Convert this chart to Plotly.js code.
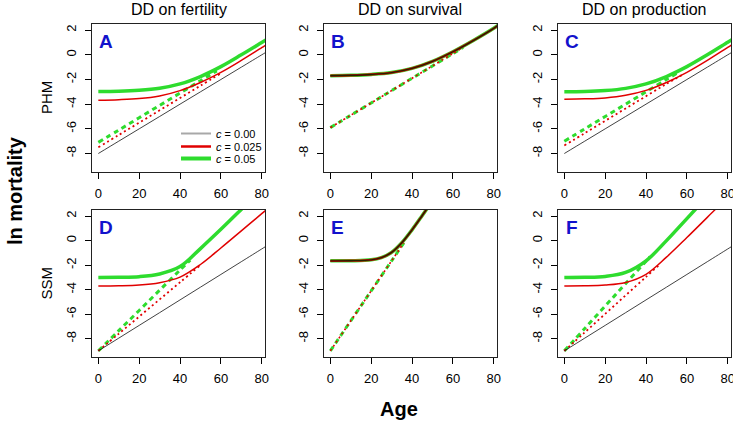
<!DOCTYPE html>
<html>
<head>
<meta charset="utf-8">
<script src="https://cdn.plot.ly/plotly-3.0.1.min.js"></script>
<style>
  body { margin: 0; background: #fff; }
  #chart { width: 733px; height: 421px; }
</style>
</head>
<body>
<div id="chart"></div>
<script>
// values (ln mortality by age)
const colTitles = ['DD on fertility', 'DD on survival', 'DD on production'];
const rowTitles = ['PHM', 'SSM'];
const letters = ['A', 'B', 'C', 'D', 'E', 'F'];
const legendLabels = ['<i>c</i> = 0.00', '<i>c</i> = 0.025', '<i>c</i> = 0.05'];
const xTicks = [0, 20, 40, 60, 80];
const yTicks = [-8, -6, -4, -2, 0, 2];

const age = [0, 10, 20, 30, 40, 50, 60, 70, 80, 82];

// A: PHM, fertility
const baseA = [-8, -7, -6, -5, -4, -3, -2, -1, 0, 0.2];
const redA = [-3.68, -3.64, -3.55, -3.33, -2.9, -2.24, -1.42, -0.45, 0.58, 0.78];
const greenA = [-2.98, -2.96, -2.88, -2.71, -2.36, -1.76, -0.96, 0.0, 1.0, 1.2];
const redDashAgeA = [0, 10, 20, 30, 40, 50, 60];
const redDashA = [-7.5, -6.5, -5.5, -4.5, -3.5, -2.5, -1.5];
const greenDashAgeA = [0, 10, 20, 30, 40, 50, 58];
const greenDashA = [-7.1, -6.1, -5.1, -4.1, -3.1, -2.1, -1.3];

// B: PHM, survival (all solid curves coincide)
const solidB = [-1.69, -1.66, -1.59, -1.44, -1.1, -0.53, 0.25, 1.16, 2.15, 2.38];
const dashAgeB = [0, 10, 20, 30, 40, 50, 60, 65];
const dashB = [-5.9, -4.9, -3.9, -2.9, -1.9, -0.9, 0.1, 0.6];

// C: PHM, production
const baseC = [-8, -7, -6, -5, -4, -3, -2, -1, 0, 0.2];
const redC = [-3.6, -3.57, -3.49, -3.28, -2.88, -2.24, -1.42, -0.45, 0.6, 0.8];
const greenC = [-3.0, -2.98, -2.9, -2.72, -2.36, -1.76, -0.96, 0.0, 1.02, 1.22];
const redDashAgeC = [0, 10, 20, 30, 40, 50, 58];
const redDashC = [-7.35, -6.35, -5.35, -4.35, -3.35, -2.35, -1.6];
const greenDashAgeC = [0, 10, 20, 30, 40, 50, 55];
const greenDashC = [-7.0, -6.0, -5.0, -4.0, -3.0, -2.0, -1.5];

// D: SSM, fertility
const baseD = [-9, -7.96, -6.92, -5.88, -4.84, -3.8, -2.76, -1.72, -0.68, -0.47];
const redD = [-3.7, -3.68, -3.62, -3.43, -2.98, -1.95, -0.6, 0.8, 2.2, 2.48];
const greenD = [-3.0, -2.99, -2.94, -2.72, -2.12, -0.65, 0.92, 2.55, 4.2, 4.5];
const redDashAgeD = [0, 10, 20, 30, 40, 50];
const redDashD = [-9, -7.6, -6.2, -4.8, -3.4, -2.0];
const greenDashAgeD = [0, 10, 20, 30, 40, 45];
const greenDashD = [-9, -7.35, -5.7, -4.05, -2.4, -1.6];

// E: SSM, survival
const ageE = [0, 10, 20, 25, 30, 35, 40, 45, 50];
const solidE = [-1.65, -1.64, -1.57, -1.39, -0.96, -0.17, 0.88, 2.05, 3.25];
const dashAgeE = [0, 10, 20, 30, 36];
const dashE = [-9, -6.55, -4.1, -1.65, -0.18];

// F: SSM, production
const baseF = [-9, -7.96, -6.92, -5.88, -4.84, -3.8, -2.76, -1.72, -0.68, -0.47];
const redF = [-3.7, -3.69, -3.63, -3.42, -2.75, -1.35, 0.25, 1.9, 3.55, 3.9];
const greenF = [-3.0, -2.99, -2.92, -2.6, -1.65, 0.0, 1.8, 3.6, 5.4, 5.8];
const redDashAgeF = [0, 10, 20, 30, 40, 46];
const redDashF = [-9, -7.49, -5.98, -4.47, -2.96, -2.05];
const greenDashAgeF = [0, 10, 20, 30, 40, 42];
const greenDashF = [-9, -7.17, -5.34, -3.51, -1.68, -1.31];

const GREEN = '#2edc2e';
const RED = '#e00000';
const BLACK = '#111111';
const W = 733, H = 421;
const FONT = 'Liberation Sans, Arial, sans-serif';

// panel boxes in pixels
const cols = [[92, 265], [324, 497], [558, 731]];
const rows = [[24, 172], [210, 357]];

function line(n, x, y, color, width, dash) {
  const ax = n === 1 ? '' : n;
  return {
    x: x, y: y, xaxis: 'x' + ax, yaxis: 'y' + ax,
    type: 'scatter', mode: 'lines', showlegend: false, hoverinfo: 'skip',
    line: { color: color, width: width, dash: dash || 'solid', shape: 'spline' }
  };
}

const gDash = '5px,4px';
const rDash = '2px,3px';

const traces = [
  // A
  line(1, age, greenA, GREEN, 3.5), line(1, greenDashAgeA, greenDashA, GREEN, 3, gDash),
  line(1, age, redA, RED, 1.5), line(1, redDashAgeA, redDashA, RED, 1.8, rDash),
  line(1, age, baseA, BLACK, 0.8),
  // B
  line(2, age, solidB, GREEN, 3.5), line(2, dashAgeB, dashB, GREEN, 3, gDash),
  line(2, age, solidB, RED, 2.2), line(2, dashAgeB, dashB, RED, 1.6, rDash),
  line(2, age, solidB, '#222200', 1.4),
  // C
  line(3, age, greenC, GREEN, 3.5), line(3, greenDashAgeC, greenDashC, GREEN, 3, gDash),
  line(3, age, redC, RED, 1.5), line(3, redDashAgeC, redDashC, RED, 1.8, rDash),
  line(3, age, baseC, BLACK, 0.8),
  // D
  line(4, age, greenD, GREEN, 3.5), line(4, greenDashAgeD, greenDashD, GREEN, 3, gDash),
  line(4, age, redD, RED, 1.5), line(4, redDashAgeD, redDashD, RED, 1.8, rDash),
  line(4, age, baseD, BLACK, 0.8),
  // E
  line(5, ageE, solidE, GREEN, 3.5), line(5, dashAgeE, dashE, GREEN, 3, gDash),
  line(5, ageE, solidE, RED, 2.2), line(5, dashAgeE, dashE, RED, 1.6, rDash),
  line(5, ageE, solidE, '#222200', 1.4),
  // F
  line(6, age, greenF, GREEN, 3.5), line(6, greenDashAgeF, greenDashF, GREEN, 3, gDash),
  line(6, age, redF, RED, 1.5), line(6, redDashAgeF, redDashF, RED, 1.8, rDash),
  line(6, age, baseF, BLACK, 0.8)
];

const layout = {
  width: W, height: H,
  margin: { l: 0, r: 0, t: 0, b: 0 },
  paper_bgcolor: '#fff', plot_bgcolor: '#fff',
  font: { family: FONT, size: 13, color: '#000' },
  showlegend: true,
  annotations: [],
  shapes: []
};

// legend entries (panel A), one small legend each so rows sit close together
const legendColors = ['#a8a8a8', RED, GREEN];
const legendWidths = [2, 2.5, 4];
const legendTops = [119, 132, 144];
legendLabels.forEach(function (lab, i) {
  const key = i === 0 ? 'legend' : 'legend' + (i + 1);
  traces.push({
    x: [null], y: [null], type: 'scatter', mode: 'lines', name: lab, legend: key,
    line: { color: legendColors[i], width: legendWidths[i] }, hoverinfo: 'skip'
  });
  layout[key] = {
    x: 176 / W, y: 1 - legendTops[i] / H, xanchor: 'left', yanchor: 'top',
    bgcolor: 'rgba(0,0,0,0)', borderwidth: 0,
    font: { family: FONT, size: 11, color: '#000' }
  };
});

for (let r = 0; r < 2; r++) {
  for (let c = 0; c < 3; c++) {
    const n = r * 3 + c + 1;
    const ax = n === 1 ? '' : n;
    layout['xaxis' + ax] = {
      domain: [cols[c][0] / W, cols[c][1] / W],
      anchor: 'y' + ax,
      range: [-3.1, 81.6],
      tickvals: xTicks, ticks: 'outside', ticklen: 6, tickwidth: 1, tickcolor: '#000',
      showline: true, mirror: true, linecolor: '#222', linewidth: 1.2,
      showgrid: false, zeroline: false,
      tickfont: { family: FONT, size: 13 },
      ticklabelstandoff: 3, ticklabeloverflow: 'allow'
    };
    layout['yaxis' + ax] = {
      domain: [1 - rows[r][1] / H, 1 - rows[r][0] / H],
      anchor: 'x' + ax,
      range: [-9.5, 2.5],
      tickvals: yTicks, ticktext: yTicks.map(String),
      ticks: 'outside', ticklen: 6, tickwidth: 1, tickcolor: '#000',
      tickangle: -90,
      showline: true, mirror: true, linecolor: '#222', linewidth: 1.2,
      showgrid: false, zeroline: false,
      tickfont: { family: FONT, size: 13 },
      ticklabelstandoff: 4
    };
    layout.annotations.push({
      text: '<b>' + letters[n - 1] + '</b>',
      xref: 'x' + ax + ' domain', yref: 'y' + ax + ' domain',
      x: 0.08, y: 0.88, xanchor: 'center', yanchor: 'middle', showarrow: false,
      font: { family: FONT, size: 19, color: '#1212cc' }
    });
  }
}

colTitles.forEach(function (t, c) {
  layout.annotations.push({
    text: t, xref: 'paper', yref: 'paper',
    x: (cols[c][0] + cols[c][1]) / 2 / W, y: 1 - 10 / H,
    xanchor: 'center', yanchor: 'middle', showarrow: false,
    font: { family: FONT, size: 16 }
  });
});

rowTitles.forEach(function (t, r) {
  layout.annotations.push({
    text: t, xref: 'paper', yref: 'paper', textangle: -90,
    x: 46 / W, y: 1 - (rows[r][0] + rows[r][1]) / 2 / H,
    xanchor: 'center', yanchor: 'middle', showarrow: false,
    font: { family: FONT, size: 15 }
  });
});

layout.annotations.push({
  text: '<b>ln mortality</b>', xref: 'paper', yref: 'paper', textangle: -90,
  x: 15 / W, y: 1 - 191 / H, xanchor: 'center', yanchor: 'middle', showarrow: false,
  font: { family: FONT, size: 20 }
});
layout.annotations.push({
  text: '<b>Age</b>', xref: 'paper', yref: 'paper',
  x: 399 / W, y: 1 - 409 / H, xanchor: 'center', yanchor: 'middle', showarrow: false,
  font: { family: FONT, size: 20 }
});

Plotly.newPlot('chart', traces, layout, { displayModeBar: false, staticPlot: true });
</script>
</body>
</html>
